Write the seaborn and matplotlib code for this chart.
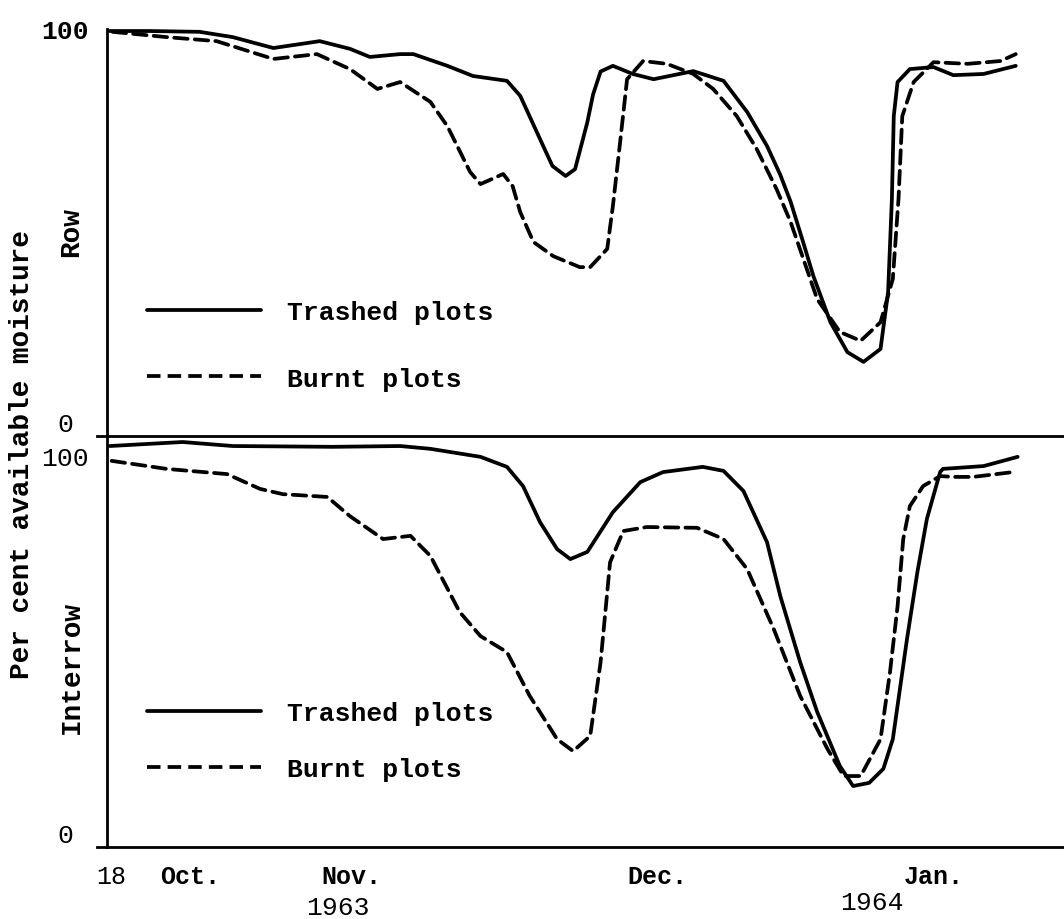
import numpy as np
import pandas as pd
import matplotlib
matplotlib.use("Agg")
import matplotlib.pyplot as plt
from matplotlib.lines import Line2D
import seaborn as sns

# ---------------- data (days after 18 Oct 1963, per cent available moisture) ----------------
row_trashed_day = [0.3, 4.5, 9.8, 13.3, 17.6, 22.5, 25.7, 27.8, 31.0, 32.4, 36.0, 38.7, 42.3, 43.7,
                   45.8, 47.1, 48.5, 49.5, 50.8, 51.4, 52.2, 53.5, 55.6, 57.8, 62.0, 65.2, 67.7,
                   69.8, 71.2, 72.3, 73.6, 74.7, 76.5, 78.3, 80.0, 81.8, 82.6, 83.0, 83.2, 83.6,
                   84.9, 87.4, 89.5, 92.7, 96.1]
row_trashed_val = [100, 100, 99.8, 98.5, 95.8, 97.5, 95.6, 93.6, 94.3, 94.3, 91.4, 88.9, 87.7, 84,
                   73.3, 66.7, 64.2, 65.9, 77.5, 84.3, 90.0, 91.4, 89.4, 88.1, 90.1, 87.7, 80.0,
                   71.6, 64.5, 57.8, 48.0, 39.5, 28.1, 20.7, 18.3, 21.5, 35.5, 58.5, 79, 87.4,
                   90.6, 91.1, 89.1, 89.4, 91.4]

row_burnt_day = [0.6, 6.3, 11.6, 17.6, 22.2, 25.7, 28.6, 31.0, 34.2, 36.0, 38.4, 39.5, 41.9, 42.9,
                 43.7, 45.1, 47.2, 50.0, 51.1, 52.9, 53.5, 54.3, 55.0, 56.7, 59.2, 62.0, 64.1,
                 66.6, 68.7, 70.8, 72.3, 75.1, 77.5, 79.7, 81.8, 83.1, 83.7, 84.1, 85.3, 87.4,
                 91.0, 94.5, 96.1]
row_burnt_val = [99.8, 98.5, 97.5, 93.1, 94.3, 90.6, 85.7, 87.4, 82.5, 76.5, 65.2, 62.2, 64.7, 61.7,
                 55.3, 47.9, 44.4, 41.7, 41.7, 46.2, 56.8, 73.3, 88.1, 92.6, 91.9, 89.4, 85.7,
                 79.0, 70.9, 61.0, 52.8, 33.8, 25.7, 23.5, 28.1, 38.8, 58.5, 79, 87.4, 92.3,
                 91.9, 92.6, 94.3]

inter_trashed_day = [0.3, 8.0, 13.3, 23.9, 31.0, 34.2, 39.5, 42.3, 44.0, 45.8, 47.6, 49.0, 50.8,
                     53.5, 56.4, 58.8, 63.0, 65.2, 67.3, 69.8, 71.2, 73.3, 75.1, 77.5, 78.9,
                     80.6, 82.1, 83.1, 84.6, 85.7, 86.7, 88.1, 88.4, 92.7, 96.3]
inter_trashed_val = [100, 101, 100, 99.8, 100, 99.3, 97.3, 94.8, 90, 81, 74.3, 71.8, 73.6,
                     83.5, 91, 93.5, 94.8, 93.8, 88.8, 76, 62.6, 46.1, 33.7, 20.2, 15.2,
                     16.0, 19.5, 26.9, 51.9, 68.6, 81.8, 93.5, 94.3, 95.0, 97.3]

inter_burnt_day = [0.5, 6.3, 12.7, 16.2, 18.6, 23.3, 25.7, 29.2, 32.1, 34.2, 37.3, 39.5, 42.3,
                   44.7, 47.6, 49.3, 51.1, 52.2, 53.2, 54.6, 57.1, 62.4, 65.2, 67.7, 70.5,
                   73.3, 76.2, 77.9, 79.7, 81.8, 82.8, 83.6, 84.2, 84.9, 86.3, 88.1, 89.5,
                   91.6, 95.8]
inter_burnt_val = [96.3, 94.3, 93, 89.3, 88, 87.3, 82.5, 76.8, 77.6, 72.6, 58.6, 52.6, 48.6,
                   37.7, 26.9, 23.9, 27.7, 46.1, 71, 78.8, 79.8, 79.6, 76.8, 69.3, 54.4,
                   37.7, 24.4, 17.7, 17.7, 26.9, 43.6, 60.0, 76.8, 85.0, 90.0, 92.5, 92.3,
                   92.3, 93.5]

treatments = ["Trashed plots", "Burnt plots"]
panels = ["Row", "Interrow"]
month_ticks = [0, 14, 44, 75]                      # 18 Oct, 1 Nov, 1 Dec, 1 Jan
month_label_pos = [0.5, 8.8, 25.8, 58.2, 87.4]
month_labels = ["18", "Oct.", "Nov.", "Dec.", "Jan."]
year_label_pos = [24.4, 80.9]
year_labels = ["1963", "1964"]
ylabel = "Per cent available moisture"

def frame(panel, treat, d, v):
    return pd.DataFrame({"panel": panel, "treatment": treat, "day": d, "value": v})

df = pd.concat([
    frame("Row", "Trashed plots", row_trashed_day, row_trashed_val),
    frame("Row", "Burnt plots", row_burnt_day, row_burnt_val),
    frame("Interrow", "Trashed plots", inter_trashed_day, inter_trashed_val),
    frame("Interrow", "Burnt plots", inter_burnt_day, inter_burnt_val),
], ignore_index=True)

# ---------------- style ----------------
sns.set_style("white")
plt.rcParams["font.family"] = ["Liberation Mono", "DejaVu Sans Mono"]
plt.rcParams["font.weight"] = "bold"
plt.rcParams["axes.linewidth"] = 2.0
plt.rcParams["text.color"] = "black"
plt.rcParams["axes.labelcolor"] = "black"
plt.rcParams["xtick.color"] = "black"
plt.rcParams["ytick.color"] = "black"

W, H = 1064, 920
fig = plt.figure(figsize=(W / 100, H / 100), dpi=100)
ax2 = fig.add_axes([97 / W, (H - 848) / H, 967 / W, 411 / H])
ax1 = fig.add_axes([97 / W, (H - 437) / H, 967 / W, 407 / H])
ax1.patch.set_alpha(0)
ax2.patch.set_alpha(0)

DASH = (3.6, 1.9)
dash_map = {"Trashed plots": "", "Burnt plots": DASH}
LW = 2.7
for ax, panel, ytop in [(ax1, "Row", 100.5), (ax2, "Interrow", 102.5)]:
    sub = df[df["panel"] == panel]
    sns.lineplot(data=sub, x="day", y="value", style="treatment", style_order=treatments,
                 dashes=dash_map, color="black", linewidth=LW, estimator=None,
                 legend=False, ax=ax)
    for ln in ax.get_lines():
        ln.set_solid_joinstyle("round")
        ln.set_dash_capstyle("round")
    ax.set_xlim(-1.05, 101.2)
    ax.set_ylim(0, ytop)
    for s in ["top", "right"]:
        ax.spines[s].set_visible(False)
    ax.spines["left"].set_position(("data", 0))
    for s in ["left", "bottom"]:
        ax.spines[s].set_color("black")
        ax.spines[s].set_linewidth(2.0)
    ax.set_xlabel("")
    ax.set_ylabel(panel, fontsize=20, fontweight="bold", color="black")
    ax.set_yticks([0, 100])
    ax.set_yticklabels(["0", "100"])
    ax.tick_params(axis="y", direction="out", length=7, width=2.0, pad=23,
                   labelsize=19, colors="black")
    for lab in ax.get_yticklabels():
        lab.set_ha("center")
        lab.set_fontweight("normal")

# y tick label vertical placement as in the reference
t0, t100 = ax1.get_yticklabels()
t0.set_va("bottom"); t100.set_va("center"); t100.set_fontweight("bold")
b0, b100 = ax2.get_yticklabels()
b0.set_va("bottom"); b100.set_va("top")

ax1.yaxis.set_label_coords(-0.013, 0.504)
ax2.yaxis.set_label_coords(-0.013, 0.44)

# x axis
ax1.tick_params(axis="x", bottom=False, labelbottom=False)
ax2.set_xticks(month_ticks)
ax2.set_xticklabels([])
ax2.set_xticks(month_label_pos, minor=True)
ax2.set_xticklabels(month_labels, minor=True)
ax2.tick_params(axis="x", which="major", direction="out", length=7, width=2, colors="black")
ax2.tick_params(axis="x", which="minor", length=0, pad=12, labelsize=18, colors="black")
for lab in ax2.get_xticklabels(minor=True):
    if lab.get_text() == "18":
        lab.set_fontweight("normal")
for pos, txt, yy in zip(year_label_pos, year_labels, [-0.146, -0.134]):
    ax2.text(pos, yy, txt, transform=ax2.get_xaxis_transform(), ha="center", va="center",
             fontsize=19, fontweight="normal", color="black")

# legends
handles = [Line2D([], [], color="black", lw=LW, linestyle="-"),
           Line2D([], [], color="black", lw=LW, linestyle=(0, DASH))]
for ax, anchor_y, spacing in [(ax1, 0.333, 1.6), (ax2, 0.355, 1.2)]:
    leg = ax.legend(handles, treatments, loc="upper left", bbox_to_anchor=(0.052, anchor_y),
                    frameon=False, handlelength=4.3, handletextpad=1.0,
                    labelspacing=spacing, borderpad=0, borderaxespad=0,
                    prop={"weight": "bold", "size": 19})
    for t in leg.get_texts():
        t.set_color("black")

fig.text(22 / W, 1 - 455 / H, ylabel, rotation=90, ha="center", va="center",
         fontsize=20, fontweight="bold", color="black")

fig.savefig("out.png", dpi=100, facecolor="white")
